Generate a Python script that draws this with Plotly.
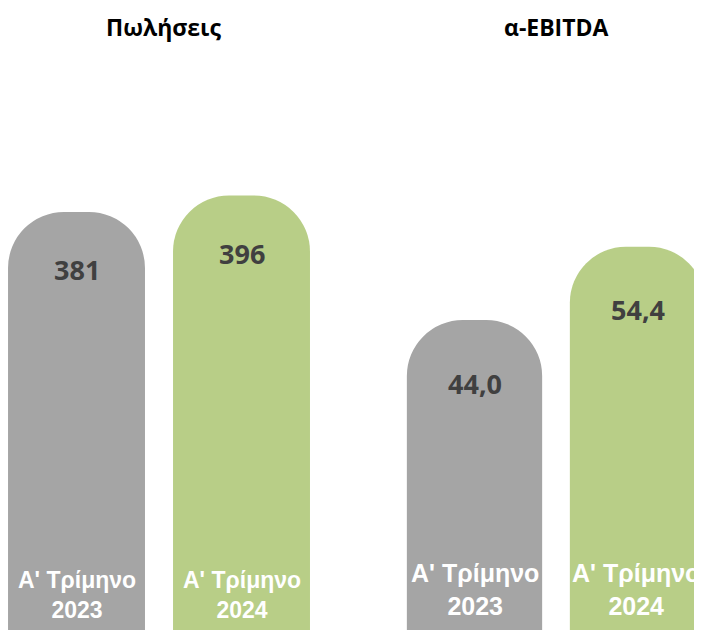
import plotly.graph_objects as go

# ---- data ----
periods = ["Α' Τρίμηνο<br>2023", "Α' Τρίμηνο<br>2024"]
sales = [381, 396]
ebitda = [44.0, 54.4]
panel_titles = ["Πωλήσεις", "α-EBITDA"]
bar_colors = ["#A5A5A5", "#B8CE87"]

xpos = list(range(len(periods)))

# page has 8px body margin: figure is 694x622, placed at (8, 8)
W, H = 694, 622

fig = go.Figure()
fig.add_trace(go.Bar(x=xpos, y=sales, marker=dict(color=bar_colors, line=dict(width=0)),
                     width=0.83, xaxis="x", yaxis="y", hoverinfo="skip"))
fig.add_trace(go.Bar(x=xpos, y=ebitda, marker=dict(color=bar_colors, line=dict(width=0)),
                     width=0.83, xaxis="x2", yaxis="y2", hoverinfo="skip"))

ann = []
val_font = dict(family="Open Sans, Noto Sans, sans-serif", size=27, color="#404040")
lab_font = dict(family="Liberation Sans, Arial, sans-serif", size=23, color="#FFFFFF")
for i, v in enumerate(sales):
    ann.append(dict(x=xpos[i], y=v, xref="x", yref="y", text="<b>%d</b>" % v, showarrow=False,
                    yanchor="middle", yshift=-58, font=val_font))
    ann.append(dict(x=xpos[i], y=0, xref="x", yref="y", text="<b>%s</b>" % periods[i], showarrow=False,
                    yanchor="middle", yshift=35, font=lab_font))
for i, v in enumerate(ebitda):
    ann.append(dict(x=xpos[i], y=v, xref="x2", yref="y2", text="<b>%s</b>" % ("%.1f" % v).replace(".", ","),
                    showarrow=False, yanchor="middle", yshift=-63, font=val_font))
    ann.append(dict(x=xpos[i], y=0, xref="x2", yref="y2", text="<b>%s</b>" % periods[i], showarrow=False,
                    yanchor="middle", yshift=41, xshift=-2 * i, font=dict(lab_font, size=25)))

title_font = dict(family="Open Sans, Noto Sans, sans-serif", size=23, color="#000000")
ann.append(dict(x=155 / W, y=1 - 19 / H, xref="paper", yref="paper", text="<b>%s</b>" % panel_titles[0],
                showarrow=False, font=title_font, xanchor="center", yanchor="middle"))
ann.append(dict(x=548 / W, y=1 - 19 / H, xref="paper", yref="paper", text="<b>%s</b>" % panel_titles[1],
                showarrow=False, font=title_font, xanchor="center", yanchor="middle"))

axis_common = dict(showgrid=False, zeroline=False, showticklabels=False, ticks="", showline=False, fixedrange=True)
fig.update_layout(
    width=W, height=H,
    margin=dict(l=0, r=0, t=0, b=0),
    paper_bgcolor="white", plot_bgcolor="white",
    showlegend=False,
    barcornerradius=56,
    xaxis=dict(domain=[0, 343 / W], range=[-0.4152, 1.6636], **axis_common),
    xaxis2=dict(domain=[343 / W, 1], range=[-0.7577, 1.3957], anchor="y2", **axis_common),
    yaxis=dict(domain=[0, 1], range=[0, 566.9], **axis_common),
    yaxis2=dict(domain=[0, 1], range=[0, 88.29], anchor="x2", **axis_common),
    annotations=ann,
)

fig.write_html("out.html")
